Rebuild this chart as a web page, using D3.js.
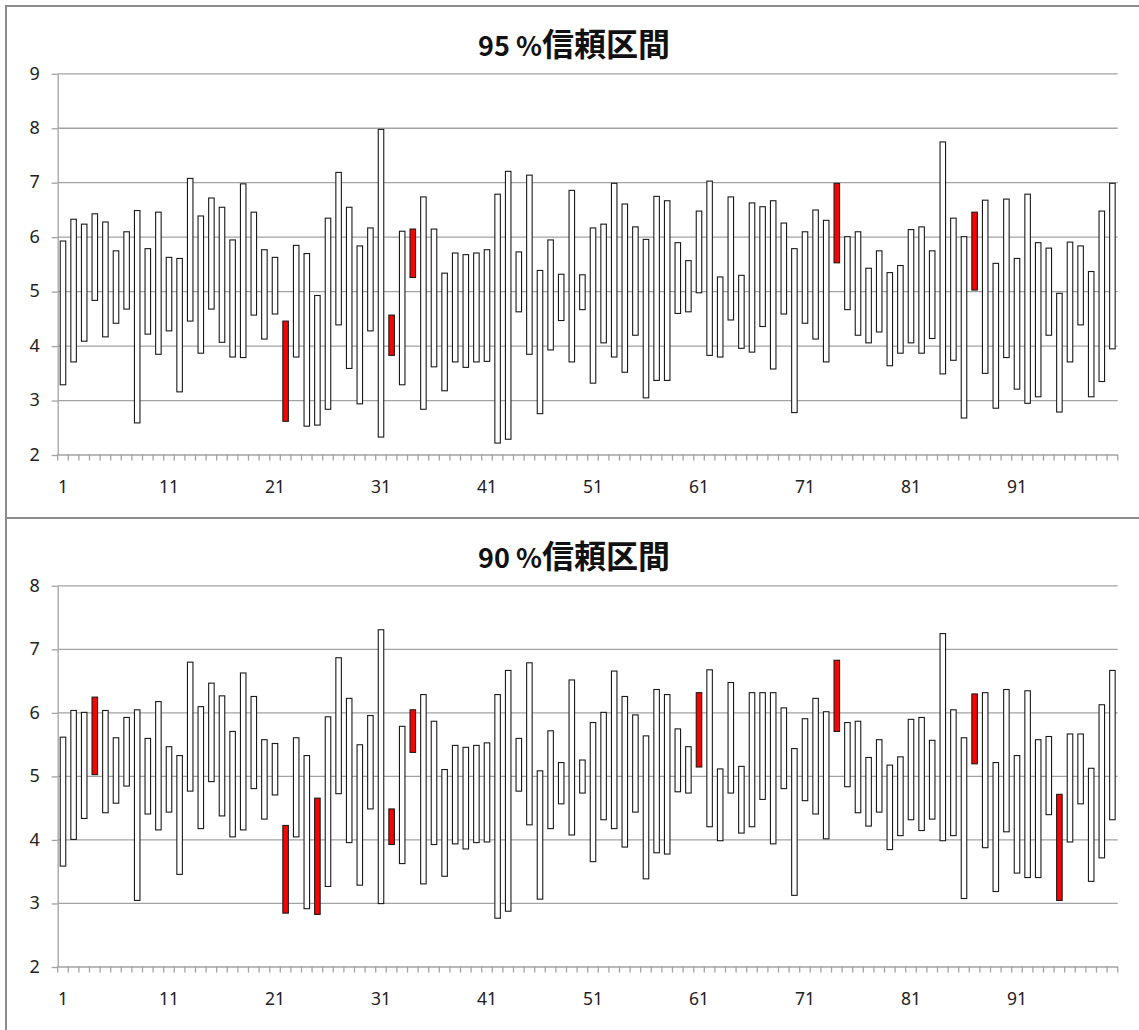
<!DOCTYPE html>
<html>
<head>
<meta charset="utf-8">
<script src="https://cdn.jsdelivr.net/npm/d3@7/dist/d3.min.js"></script>
<style>
  html, body { margin: 0; padding: 0; background: #ffffff; }
  svg { display: block; }
</style>
</head>
<body>
<svg id="chart" width="1139" height="1030"></svg>
<script>
// Sample numbers 1..100
const samples = d3.range(1, 101);

// 95% intervals: lower / upper bounds per sample
const lower95 = [
  3.28, 3.70, 4.08, 4.83, 4.16, 4.41, 4.67, 2.58, 4.21, 3.84,
  4.27, 3.15, 4.45, 3.86, 4.67, 4.06, 3.79, 3.78, 4.56, 4.12,
  4.58, 2.61, 3.79, 2.52, 2.54, 2.83, 4.38, 3.58, 2.93, 4.27,
  2.32, 3.82, 3.28, 5.25, 2.83, 3.61, 3.17, 3.70, 3.60, 3.70,
  3.71, 2.21, 2.28, 4.62, 3.84, 2.75, 3.92, 4.46, 3.70, 4.66,
  3.31, 4.05, 3.79, 3.51, 4.19, 3.04, 3.36, 3.36, 4.59, 4.62,
  4.97, 3.82, 3.79, 4.47, 3.95, 3.88, 4.35, 3.57, 4.58, 2.77,
  4.41, 4.12, 3.70, 5.52, 4.66, 4.19, 4.05, 4.25, 3.63, 3.86,
  4.05, 3.86, 4.13, 3.48, 3.73, 2.67, 5.02, 3.49, 2.85, 3.78,
  3.20, 2.94, 3.06, 4.19, 2.78, 3.70, 4.38, 3.06, 3.34, 3.94
];
const upper95 = [
  5.92, 6.32, 6.23, 6.42, 6.27, 5.74, 6.09, 6.48, 5.78, 6.45,
  5.62, 5.60, 7.07, 6.38, 6.71, 6.54, 5.94, 6.97, 6.45, 5.76,
  5.62, 4.45, 5.84, 5.69, 4.92, 6.34, 7.18, 6.54, 5.83, 6.16,
  7.97, 4.56, 6.10, 6.14, 6.73, 6.14, 5.33, 5.70, 5.67, 5.70,
  5.76, 6.78, 7.20, 5.72, 7.13, 5.38, 5.94, 5.31, 6.85, 5.30,
  6.16, 6.23, 6.98, 6.60, 6.18, 5.95, 6.74, 6.66, 5.89, 5.56,
  6.47, 7.02, 5.26, 6.73, 5.29, 6.62, 6.55, 6.66, 6.25, 5.78,
  6.09, 6.49, 6.30, 6.98, 6.00, 6.09, 5.42, 5.74, 5.34, 5.47,
  6.13, 6.18, 5.74, 7.74, 6.34, 6.00, 6.45, 6.67, 5.51, 6.69,
  5.60, 6.78, 5.89, 5.79, 4.96, 5.90, 5.83, 5.36, 6.47, 6.98
];
// Samples whose 95% interval is highlighted
const missed95 = [22, 32, 34, 74, 87];

// 90% intervals: lower / upper bounds per sample
const lower90 = [
  3.58, 4.00, 4.33, 5.02, 4.42, 4.57, 4.84, 3.04, 4.40, 4.15,
  4.43, 3.45, 4.76, 4.17, 4.91, 4.37, 4.04, 4.15, 4.80, 4.32,
  4.70, 2.84, 4.04, 2.91, 2.82, 3.26, 4.72, 3.95, 3.28, 4.48,
  2.99, 3.92, 3.62, 5.37, 3.30, 3.92, 3.42, 3.93, 3.85, 3.95,
  3.96, 2.76, 2.87, 4.76, 4.23, 3.06, 4.17, 4.56, 4.07, 4.73,
  3.65, 4.31, 4.17, 3.88, 4.43, 3.38, 3.79, 3.77, 4.75, 4.73,
  5.14, 4.20, 3.98, 4.73, 4.10, 4.20, 4.63, 3.93, 4.80, 3.12,
  4.61, 4.40, 4.01, 5.70, 4.83, 4.42, 4.21, 4.43, 3.84, 4.06,
  4.31, 4.14, 4.32, 3.98, 4.06, 3.07, 5.19, 3.87, 3.18, 4.12,
  3.47, 3.40, 3.40, 4.39, 3.04, 3.96, 4.56, 3.34, 3.71, 4.31
];
const upper90 = [
  5.61, 6.03, 6.00, 6.24, 6.03, 5.60, 5.92, 6.04, 5.59, 6.17,
  5.46, 5.32, 6.79, 6.09, 6.46, 6.26, 5.70, 6.62, 6.25, 5.57,
  5.51, 4.22, 5.60, 5.32, 4.65, 5.93, 6.86, 6.22, 5.49, 5.95,
  7.30, 4.48, 5.78, 6.04, 6.28, 5.86, 5.10, 5.48, 5.45, 5.48,
  5.52, 6.28, 6.66, 5.59, 6.78, 5.08, 5.71, 5.21, 6.51, 5.25,
  5.84, 6.00, 6.65, 6.25, 5.96, 5.63, 6.36, 6.28, 5.74, 5.46,
  6.31, 6.67, 5.11, 6.47, 5.15, 6.31, 6.31, 6.31, 6.07, 5.43,
  5.90, 6.22, 6.01, 6.82, 5.84, 5.86, 5.29, 5.57, 5.17, 5.30,
  5.89, 5.92, 5.56, 7.24, 6.04, 5.60, 6.29, 6.31, 5.21, 6.36,
  5.32, 6.34, 5.57, 5.62, 4.71, 5.66, 5.66, 5.12, 6.12, 6.66
];
// Samples whose 90% interval is highlighted
const missed90 = [4, 22, 25, 32, 34, 61, 74, 87, 95];

// Axis labels
const yTicks95 = [2, 3, 4, 5, 6, 7, 8, 9];
const yTicks90 = [2, 3, 4, 5, 6, 7, 8];
const xLabels = [1, 11, 21, 31, 41, 51, 61, 71, 81, 91];

const panels = [
  { title: "95 %", titleCJK: "信頼区間", lower: lower95, upper: upper95, missed: missed95,
    yTicks: yTicks95, top: 0 },
  { title: "90 %", titleCJK: "信頼区間", lower: lower90, upper: upper90, missed: missed90,
    yTicks: yTicks90, top: 512 }
];

const svg = d3.select("#chart");
const plotLeft = 57.7, plotRight = 1117.7;
const gridColor = "#a3a3a3";
const labelFont = "'Noto Sans', 'DejaVu Sans', sans-serif";

panels.forEach(p => {
  const g = svg.append("g").attr("transform", `translate(0,${p.top})`);

  // Panel frame
  g.append("rect")
    .attr("x", 6).attr("y", 6)
    .attr("width", 1200).attr("height", 1200)
    .attr("fill", "#ffffff")
    .attr("stroke", "#8c8c8c").attr("stroke-width", 2);

  const plotTop = 73.3, plotBottom = 454.5;
  const x = d3.scaleBand().domain(samples).range([plotLeft, plotRight])
    .paddingInner(0.48).paddingOuter(0.24);
  const y = d3.scaleLinear().domain(d3.extent(p.yTicks)).range([plotBottom, plotTop]);

  // Horizontal gridlines
  g.append("g").selectAll("line").data(p.yTicks).join("line")
    .attr("x1", plotLeft).attr("x2", plotRight)
    .attr("y1", d => y(d) + 0.5).attr("y2", d => y(d) + 0.5)
    .attr("stroke", gridColor).attr("stroke-width", 1.3);

  // Y axis
  const yAxis = g.append("g").attr("transform", `translate(${plotLeft},0)`)
    .call(d3.axisLeft(y).tickValues(p.yTicks).tickFormat(d3.format("d"))
      .tickSize(6).tickPadding(12).tickSizeOuter(0));
  yAxis.select(".domain").attr("stroke", gridColor).attr("stroke-width", 1.3);
  yAxis.selectAll(".tick line").attr("stroke", gridColor).attr("stroke-width", 1.3)
    .attr("transform", "translate(0,0.5)");
  yAxis.selectAll(".tick text")
    .attr("font-family", labelFont).attr("font-size", 18).attr("fill", "#222");

  // X axis: boundary ticks between samples, labels every 10th sample
  const step = x.step();
  const boundaries = d3.range(0, samples.length + 1).map(i => plotLeft + i * step);
  g.append("g").selectAll("line").data(boundaries).join("line")
    .attr("x1", d => d).attr("x2", d => d)
    .attr("y1", plotBottom).attr("y2", plotBottom + 6)
    .attr("stroke", gridColor).attr("stroke-width", 1.3);

  const xAxis = g.append("g").attr("transform", `translate(0,${plotBottom})`)
    .call(d3.axisBottom(x).tickValues(xLabels).tickSize(0).tickPadding(26));
  xAxis.select(".domain").remove();
  xAxis.selectAll(".tick text")
    .attr("font-family", labelFont).attr("font-size", 17.5).attr("fill", "#222");

  // Interval bars
  const data = samples.map((s, i) => ({ s, lo: p.lower[i], hi: p.upper[i] }));
  g.append("g").selectAll("rect").data(data).join("rect")
    .attr("x", d => x(d.s))
    .attr("width", x.bandwidth())
    .attr("y", d => y(d.hi))
    .attr("height", d => y(d.lo) - y(d.hi))
    .attr("fill", d => p.missed.includes(d.s) ? "#ff0000" : "#ffffff")
    .attr("stroke", "#1a1a1a").attr("stroke-width", 1.1);

  // Title
  const t = g.append("text")
    .attr("x", 574).attr("y", 56)
    .attr("text-anchor", "middle")
    .attr("font-family", "'Noto Sans CJK JP', sans-serif")
    .attr("font-weight", "bold").attr("fill", "#111");
  t.append("tspan").attr("font-size", 27).text(p.title);
  t.append("tspan").attr("font-size", 32).text(p.titleCJK);
});
</script>
</body>
</html>
